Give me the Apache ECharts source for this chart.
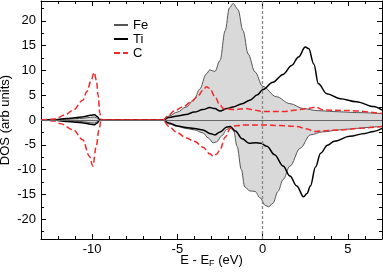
<!DOCTYPE html>
<html><head><meta charset="utf-8">
<script src="https://cdn.jsdelivr.net/npm/echarts@6/dist/echarts.min.js"></script>
<style>html,body{margin:0;padding:0;background:#fff}#c{width:383px;height:273px}</style>
</head><body><div id="c"></div>
<script>
const xMajorTicks = [-10, -5, 0, 5];
const xMinorTicks = [-12, -11, -9, -8, -7, -6, -4, -3, -2, -1, 1, 2, 3, 4, 6];
const yMajorTicks = [-20, -15, -10, -5, 0, 5, 10, 15, 20];
const yMinorTicks = [-22.5, -17.5, -12.5, -7.5, -2.5, 2.5, 7.5, 12.5, 17.5, 22.5];
const seriesNames = ['Fe', 'Ti', 'C'];

const feUp = [[-13,0],[-12.3,0],[-12,0.1],[-11.5,0.15],[-11,0.25],[-10.5,0.35],[-10.1,0.55],[-9.85,0.6],[-9.65,0.3],[-9.5,0],
  [-5.85,0],[-5.5,0.8],[-5,1.6],[-4.5,2.6],[-4,4.2],[-3.7,6.2],[-3.3,9.3],[-3.1,10.1],[-2.8,9.8],[-2.5,12],[-2.2,18],
  [-1.95,22.6],[-1.73,23.5],[-1.45,22.3],[-1.15,18],[-0.85,13.3],[-0.45,9.7],[0,6.8],[0.8,4.7],[1.6,3.3],[2.4,2.3],
  [3.2,1.9],[4.2,1.7],[5.5,1.5],[7,1.3]];
const feDown = [[-13,0],[-12.3,0],[-12,-0.1],[-11.5,-0.15],[-11,-0.25],[-10.5,-0.35],[-10.1,-0.55],[-9.85,-0.6],[-9.65,-0.3],[-9.5,0],
  [-5.85,0],[-5.5,-0.8],[-5,-1.3],[-4.5,-1.7],[-4,-2.0],[-3.5,-2.6],[-3.2,-3.6],[-2.9,-4.6],[-2.7,-4.4],[-2.4,-3.2],
  [-2.1,-1.9],[-1.9,-1.5],[-1.7,-2.2],[-1.5,-5.3],[-1.25,-10],[-1.05,-13.5],[-0.75,-14.3],[-0.45,-14.4],[-0.15,-15.7],
  [0.15,-17.2],[0.35,-17.5],[0.6,-16.8],[0.9,-14.4],[1.2,-12],[1.6,-9.3],[2.2,-5.7],[2.8,-3],[3.5,-2.4],[4.5,-2],
  [5.5,-1.7],[6.5,-1.4],[7,-1.3]];
const tiUp = [[-13,0],[-12.3,0],[-11.5,0.3],[-11,0.45],[-10.5,0.65],[-10.1,0.95],[-9.85,1.05],[-9.7,0.7],[-9.55,0],
  [-5.85,0],[-5.5,0.5],[-5,0.8],[-4.5,1.1],[-4,1.6],[-3.5,2.1],[-3.1,2.5],[-2.8,2.3],[-2.5,1.8],[-2.1,2.3],[-1.75,2.6],
  [-1.2,3.3],[-0.75,4.0],[-0.3,5.1],[0,6.1],[0.6,7.6],[1.2,9.2],[1.7,11],[2.1,12.7],[2.5,14.7],[2.7,14.4],[3,11.3],
  [3.27,7.3],[3.76,5.3],[4.55,4.3],[5.5,3.7],[6.5,2.7],[7,2]];
const tiDown = [[-13,0],[-12.3,0],[-11.5,-0.3],[-11,-0.45],[-10.5,-0.6],[-10.1,-0.85],[-9.85,-0.95],[-9.7,-0.6],[-9.55,0],
  [-5.85,0],[-5.5,-0.6],[-5,-1.2],[-4.5,-1.5],[-4,-1.7],[-3.5,-2],[-3.1,-2.7],[-2.8,-3],[-2.5,-2.4],[-2.1,-1.4],
  [-1.9,-1.3],[-1.6,-2.2],[-1.2,-3.8],[-0.8,-4.7],[-0.4,-4.6],[-0.1,-4.7],[0.25,-5.3],[0.7,-7],[1.2,-9.3],[1.6,-11.3],
  [2,-13.3],[2.4,-15.5],[2.6,-14.8],[2.8,-13.3],[3.1,-9.5],[3.4,-6.7],[3.8,-5.1],[4.2,-4.3],[5.1,-3.3],[6,-2.7],
  [6.5,-2.3],[7,-1.7]];
const cUp = [[-13,0],[-12.2,0.2],[-11.6,1],[-11.1,2],[-10.55,4],[-10.3,5.8],[-10.06,8],[-9.88,9.6],[-9.75,8],[-9.65,5],
  [-9.55,1.5],[-9.47,0],[-5.85,0],[-5.5,1],[-5.2,1.8],[-4.7,2.6],[-4.2,3.6],[-3.8,4.8],[-3.5,6],[-3.3,6.7],[-3.1,6.4],
  [-2.8,4.7],[-2.5,3],[-2.3,2.3],[-1.7,2.1],[-1.0,2.3],[-0.5,2],[0,1.7],[1.2,1.7],[2,2],[2.6,2.3],[3.1,2.6],[3.6,2],
  [5,1.9],[7,1.3]];
const cDown = [[-13,0],[-12.2,-0.2],[-11.9,-0.7],[-11.1,-2],[-10.55,-4],[-10.16,-7.3],[-9.96,-9.3],[-9.76,-5.3],
  [-9.6,-2],[-9.47,0],[-5.85,0],[-5.5,-1.3],[-5,-2.6],[-4.5,-3.6],[-4,-4.3],[-3.5,-5.5],[-3.1,-6.8],[-2.9,-7.3],
  [-2.7,-6.9],[-2.5,-6],[-2.2,-3.5],[-1.9,-1.7],[-1.7,-1.2],[-1,-1],[0,-1],[1,-1.1],[2,-1.3],[2.6,-1.8],[3,-2.3],
  [3.5,-2.2],[4.5,-2],[6,-1.6],[7,-1.3]];

const FONT = 'Liberation Sans, Arial, sans-serif';
const chart = echarts.init(document.getElementById('c'), null, {renderer: 'canvas'});

function xAx(pos, vals, len, label, line, extra) {
  return Object.assign({
    type: 'value', position: pos, min: -13, max: 7,
    axisLine: {show: line, onZero: false, lineStyle: {color: '#000', width: 1}},
    axisTick: {show: true, inside: true, length: len, customValues: vals, lineStyle: {color: '#000', width: 1}},
    axisLabel: label ? {show: true, customValues: vals, fontSize: 13, fontFamily: FONT, color: '#000', margin: 4,
      formatter: v => String(v)} : {show: false},
    splitLine: {show: false}
  }, extra || {});
}
function yAx(pos, vals, len, label, line, extra) {
  return Object.assign({
    type: 'value', position: pos, min: -24, max: 24,
    axisLine: {show: line, onZero: false, lineStyle: {color: '#000', width: 1}},
    axisTick: {show: true, inside: true, length: len, customValues: vals, lineStyle: {color: '#000', width: 1}},
    axisLabel: label ? {show: true, customValues: vals, fontSize: 13, fontFamily: FONT, color: '#000', margin: 5,
      formatter: v => String(v)} : {show: false},
    splitLine: {show: false}
  }, extra || {});
}

function lineSeries(name, data, color, width, type, extra) {
  return Object.assign({
    name: name, type: 'line', data: data, xAxisIndex: 0, yAxisIndex: 0,
    showSymbol: false, symbol: 'none', smooth: 0.35, smoothMonotone: 'x',
    lineStyle: {color: color, width: width, type: type},
    itemStyle: {color: color},
    emphasis: {disabled: true}, silent: true
  }, extra || {});
}

const option = {
  animation: false,
  backgroundColor: '#fff',
  grid: {left: 41, right: 1, top: 1, bottom: 34, containLabel: false, outerBoundsMode: 'none'},
  xAxis: [
    xAx('bottom', xMajorTicks, 5, true, true, {
      name: '{n|E - E}{s|F}{n| (eV)}', nameLocation: 'middle', nameGap: 14, nameMoveOverlap: false,
      nameTextStyle: {verticalAlign: 'top', rich: {
        n: {fontSize: 13, fontFamily: FONT, color: '#000', lineHeight: 15},
        s: {fontSize: 9, fontFamily: FONT, color: '#000', lineHeight: 15, verticalAlign: 'bottom', padding: [5, 0, 0, 0]}
      }}
    }),
    xAx('bottom', xMinorTicks, 3, false, false),
    xAx('top', xMajorTicks, 5, false, true),
    xAx('top', xMinorTicks, 3, false, false)
  ],
  yAxis: [
    yAx('left', yMajorTicks, 5, true, true, {
      name: 'DOS (arb units)', nameLocation: 'middle', nameGap: 29, nameMoveOverlap: false,
      nameTextStyle: {fontSize: 13, fontFamily: FONT, color: '#000'}
    }),
    yAx('left', yMinorTicks, 3, false, false),
    yAx('right', yMajorTicks, 5, false, true),
    yAx('right', yMinorTicks, 3, false, false)
  ],
  legend: {
    orient: 'vertical', left: 113, top: 18, itemWidth: 14, itemHeight: 10, itemGap: 0, padding: 0,
    data: seriesNames, selectedMode: false,
    itemStyle: {opacity: 0, borderWidth: 0},
    textStyle: {fontSize: 13, lineHeight: 14, fontFamily: FONT, color: '#000'}
  },
  series: [
    lineSeries(seriesNames[0], feUp, '#555', 1, 'solid', {
      areaStyle: {color: '#d9d9d9', opacity: 1},
      markLine: {silent: true, symbol: 'none', animation: false, label: {show: false},
        data: [
          {yAxis: 0, lineStyle: {color: '#666', width: 1, type: 'solid'}},
          {xAxis: 0, lineStyle: {color: '#888', width: 1.3, type: [3, 2]}}
        ]}
    }),
    lineSeries(seriesNames[0], feDown, '#555', 1, 'solid', {areaStyle: {color: '#d9d9d9', opacity: 1}}),
    lineSeries(seriesNames[1], tiUp, '#000', 1.5, 'solid'),
    lineSeries(seriesNames[1], tiDown, '#000', 1.5, 'solid'),
    lineSeries(seriesNames[2], cUp, '#f42a2a', 1.5, [6, 3]),
    lineSeries(seriesNames[2], cDown, '#f42a2a', 1.5, [6, 3])
  ]
};
chart.setOption(option);
</script></body></html>
